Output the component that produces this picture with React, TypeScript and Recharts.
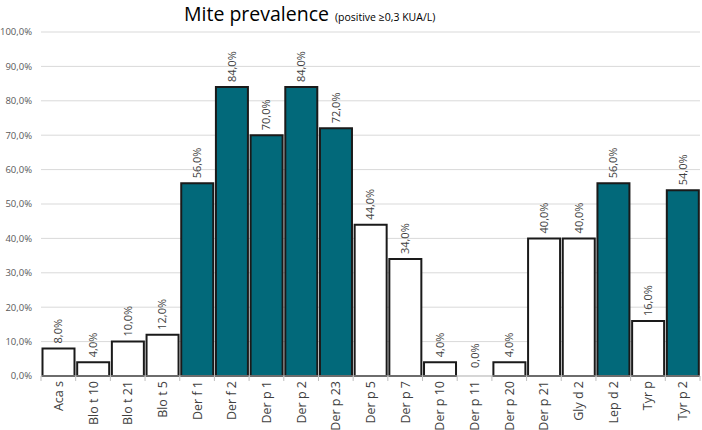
import { ComposedChart, Bar, Line, XAxis, YAxis, CartesianGrid, Cell, LabelList } from "recharts";

// allergen components and % of sera positive at >=0,3 KUA/L
const allergens = [
  "Aca s", "Blo t 10", "Blo t 21", "Blo t 5", "Der f 1", "Der f 2", "Der p 1",
  "Der p 2", "Der p 23", "Der p 5", "Der p 7", "Der p 10", "Der p 11", "Der p 20",
  "Der p 21", "Gly d 2", "Lep d 2", "Tyr p", "Tyr p 2",
];
const prevalence = [8, 4, 10, 12, 56, 84, 70, 84, 72, 44, 34, 4, 0, 4, 40, 40, 56, 16, 54];
// major allergens get the filled bar
const major = [
  false, false, false, false, true, true, true, true, true, false, false, false,
  false, false, false, false, true, false, true,
];
const yTicks = [0, 10, 20, 30, 40, 50, 60, 70, 80, 90, 100];

const data = allergens.map((name, i) => ({ name, value: prevalence[i], major: major[i] }));

const W = 702;
const H = 430;
const M = { top: 32, right: 2, left: 0, bottom: 0 };
const Y_W = 41;
const band = (W - M.left - M.right - Y_W) / allergens.length;
const FONT = "'Open Sans', sans-serif";
const TEAL = "#02697a";

const pct = (v: number) => `${v.toFixed(1).replace(".", ",")}%`;

function CategoryTick(props: any) {
  const { x, y, payload, index } = props;
  return (
    <g>
      <line x1={x - band / 2} x2={x - band / 2} y1={y} y2={y + 5} stroke="#bfbfbf" />
      {index === allergens.length - 1 && (
        <line x1={x + band / 2} x2={x + band / 2} y1={y} y2={y + 5} stroke="#bfbfbf" />
      )}
      <text
        x={x + 4.5}
        y={y + 5}
        transform={`rotate(-90, ${x + 4.5}, ${y + 5})`}
        textAnchor="end"
        fontSize={12.5}
        fontFamily={FONT}
        fill="#404040"
      >
        {payload.value}
      </text>
    </g>
  );
}

// value text sits just above the top of each bar, reading upwards
function ValueLabel(props: any) {
  const { x, y, value } = props;
  const cx = x + 4;
  const cy = y - (value === 0 ? 8 : 5);
  return (
    <text
      x={cx}
      y={cy}
      transform={`rotate(-90, ${cx}, ${cy})`}
      textAnchor="start"
      fontSize={11}
      fontFamily={FONT}
      fill="#404040"
    >
      {pct(value)}
    </text>
  );
}

export default function App() {
  return (
    <div style={{ position: "relative", width: W, height: H, background: "#fff" }}>
      <style>{`body{margin:0}`}</style>
      <svg
        width={W}
        height={30}
        style={{ position: "absolute", left: 0, top: 0, zIndex: 1, overflow: "visible" }}
      >
        <text x={184} y={21} fontFamily={FONT} fill="#000">
          <tspan fontSize={19.5}>Mite prevalence</tspan>
          <tspan fontSize={10.5} dx={6}>(positive ≥0,3 KUA/L)</tspan>
        </text>
      </svg>
      <ComposedChart width={W} height={H} data={data} margin={M} barCategoryGap={1.5}>
        <CartesianGrid vertical={false} stroke="#d9d9d9" />
        <XAxis
          dataKey="name"
          interval={0}
          height={54}
          tickSize={0}
          tickMargin={0}
          stroke="#bfbfbf"
          tick={<CategoryTick />}
        />
        <YAxis
          width={Y_W}
          domain={[0, 100]}
          ticks={yTicks}
          tickFormatter={pct}
          axisLine={false}
          tickLine={false}
          tickSize={0}
          tickMargin={9}
          tick={{ fontSize: 9.5, fill: "#595959", fontFamily: FONT }}
        />
        <Bar dataKey="value" stroke="#1a1a1a" strokeWidth={2} isAnimationActive={false}>
          {data.map((d) => (
            <Cell key={d.name} fill={d.major ? TEAL : "#ffffff"} />
          ))}
        </Bar>
        {/* invisible series carrying the value labels, so 0 % still gets one */}
        <Line dataKey="value" stroke="none" dot={false} activeDot={false} isAnimationActive={false}>
          <LabelList dataKey="value" content={<ValueLabel />} />
        </Line>
      </ComposedChart>
    </div>
  );
}
